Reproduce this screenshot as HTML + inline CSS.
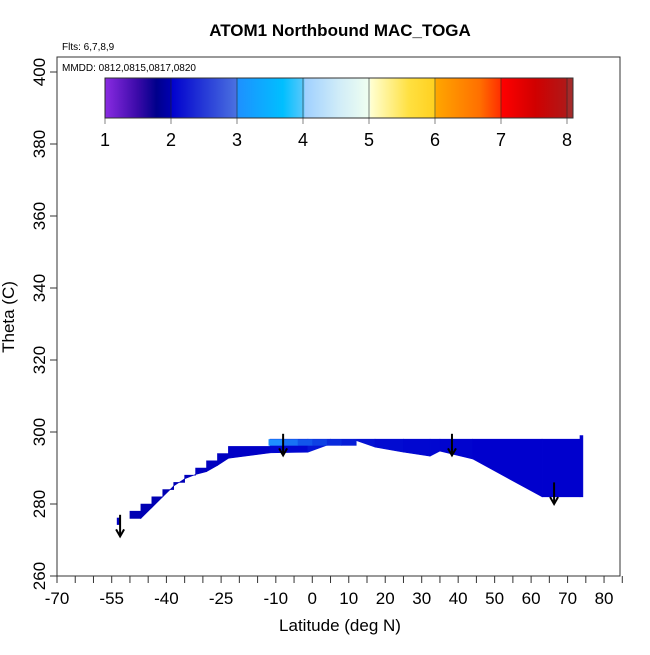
<!DOCTYPE html>
<html><head><meta charset="utf-8"><style>
body{margin:0;background:#fff;}
svg text{font-family:"Liberation Sans",sans-serif;}
</style></head><body>
<svg id="chart" width="650" height="650" xmlns="http://www.w3.org/2000/svg">
<defs>
<linearGradient id="cbar" x1="105" x2="573" y1="0" y2="0" gradientUnits="userSpaceOnUse">
<stop offset="0" stop-color="#8a2be2"/><stop offset="0.07" stop-color="#3a0aa8"/><stop offset="0.11" stop-color="#00008b"/>
<stop offset="0.141" stop-color="#0000b0"/><stop offset="0.142" stop-color="#0000cd"/><stop offset="0.28" stop-color="#4a70e0"/>
<stop offset="0.283" stop-color="#1e90ff"/><stop offset="0.38" stop-color="#00bfff"/><stop offset="0.425" stop-color="#5ac8fa"/>
<stop offset="0.427" stop-color="#9fd0ff"/><stop offset="0.5" stop-color="#d0ecf8"/><stop offset="0.565" stop-color="#f0fff0"/>
<stop offset="0.568" stop-color="#ffffd0"/><stop offset="0.65" stop-color="#ffe040"/><stop offset="0.705" stop-color="#ffd020"/>
<stop offset="0.708" stop-color="#ffa500"/><stop offset="0.8" stop-color="#ff7000"/><stop offset="0.845" stop-color="#ff3000"/>
<stop offset="0.848" stop-color="#ff0000"/><stop offset="0.92" stop-color="#d00000"/><stop offset="0.985" stop-color="#b01818"/>
<stop offset="0.988" stop-color="#a52a2a"/><stop offset="1" stop-color="#a52a2a"/>
</linearGradient>
</defs>
<text x="340" y="36" font-size="17" font-weight="bold" text-anchor="middle">ATOM1 Northbound MAC_TOGA</text>
<text x="62" y="50" font-size="10">Flts: 6,7,8,9</text>
<g id="data"></g>
<g id="axes"></g>
<rect x="57" y="57" width="563" height="519" fill="none" stroke="#333" stroke-width="1"/>
<text x="62" y="71" font-size="10">MMDD: 0812,0815,0817,0820</text>
<rect x="105" y="78" width="468" height="40" fill="url(#cbar)" stroke="#333"/>
<g id="cb"></g>
<text transform="translate(14,317) rotate(-90)" font-size="17" text-anchor="middle">Theta (C)</text>
<text x="340" y="631" font-size="17" text-anchor="middle">Latitude (deg N)</text>
</svg>
<script>
const xTicks=[-70,-65,-60,-55,-50,-45,-40,-35,-30,-25,-20,-15,-10,-5,0,5,10,15,20,25,30,35,40,45,50,55,60,65,70,75,80,85];
const xLabels=[-70,-55,-40,-25,-10,0,10,20,30,40,50,60,70,80];
const yTicks=[260,280,300,320,340,360,380,400];
const cbTicks=[1,2,3,4,5,6,7,8];
const knotLat=[-50.0,-47.0,-47.0,-44.0,-44.0,-41.0,-41.0,-38.0,-38.0,-35.0,-35.0,-32.0,-32.0,-29.0,-29.0,-26.0,-26.0,-23.0,-23.0,-11.6,-11.6,-1.2,5,11,17.2,25,32.3,35,44,63,73.4,73.4,74.2];
const knotTop=[278,278,280,280,282,282,284,284,286,286,288,288,290,290,292,292,294,294,296,296,298,298,298,298,298,298,298,298,298,298,298,299,299];
const knotBot=[276,276,276,279,279,282,282,285,285,287,287,288.2,288.2,289,289,290.7,290.7,292.7,292.7,294.2,294.2,294.4,296.7,298,295.8,294.4,293.3,294.7,292.5,282,282,282,282];
const knotVal=[1.8,1.8,1.8,1.8,1.8,1.8,1.8,1.8,1.8,1.85,1.85,1.9,1.9,1.9,1.9,1.9,1.9,1.9,1.9,2.0,2.0,2.1,2.2,2.15,2.1,2.05,2.05,2.05,2.0,2.0,2.0,2.0,2.0];
const bitLat=[-53.6,-52.8], bitTheta=[274.2,276.2], bitVal=1.9;
const bandLat=[-12,-8,-4,0,4,8,12];
const bandVal=[3.0,2.8,2.6,2.45,2.3,2.2,2.1];
const bandTop=298, bandBot=296.2;
const arrowLat=[-52.7,-8,38.3,66.3];
const arrowTheta=[277,299.5,299.5,286];
const NS="http://www.w3.org/2000/svg";
const X=v=>57+(v+70)*3.647;
const Y=t=>576-(t-260)*3.6;
const CB=v=>105+(v-1)*66;
function color(v){
 const st=[[1,[138,43,226]],[1.5,[0,0,139]],[2,[0,0,205]],[3,[30,144,255]],[4,[160,208,255]],[5,[255,255,208]],[6,[255,165,0]],[7,[255,0,0]],[8,[165,42,42]]];
 for(let i=0;i<st.length-1;i++){const a=st[i],b=st[i+1];if(v<=b[0]){const f=Math.max(0,(v-a[0])/(b[0]-a[0]));return 'rgb('+a[1].map((c,j)=>Math.round(c+(b[1][j]-c)*f)).join(',')+')';}}
 return 'rgb(165,42,42)';
}
function mk(tag,attrs,parent){const e=document.createElementNS(NS,tag);for(const k in attrs)e.setAttribute(k,attrs[k]);parent.appendChild(e);return e;}
const data=document.getElementById('data'),axes=document.getElementById('axes'),cb=document.getElementById('cb');
for(let i=0;i<knotLat.length-1;i++){
 if(knotLat[i+1]<=knotLat[i])continue;
 const c=color((knotVal[i]+knotVal[i+1])/2);
 const p=[[X(knotLat[i]),Y(knotTop[i])],[X(knotLat[i+1]),Y(knotTop[i+1])],[X(knotLat[i+1]),Y(knotBot[i+1])],[X(knotLat[i]),Y(knotBot[i])]];
 const e=mk('polygon',{points:p.map(q=>q.join(',')).join(' '),fill:c,stroke:c,'stroke-width':0.6},data);
 
 
}
{const e=mk('rect',{x:X(bitLat[0]),y:Y(bitTheta[1]),width:X(bitLat[1])-X(bitLat[0]),height:Y(bitTheta[0])-Y(bitTheta[1]),fill:color(bitVal)},data);
 
 }
for(let i=0;i<bandLat.length-1;i++){
 const e=mk('rect',{x:X(bandLat[i]),y:Y(bandTop),width:X(bandLat[i+1])-X(bandLat[i])+0.5,height:Y(bandBot)-Y(bandTop),fill:color(bandVal[i])},data);
 
 
}
for(let i=0;i<arrowLat.length;i++){
 const x=X(arrowLat[i]),y=Y(arrowTheta[i]),y2=Y(arrowTheta[i]-6);
 const g=mk('g',{stroke:'#000','stroke-width':2,fill:'none'},data);
 
 
 mk('line',{x1:x,y1:y,x2:x,y2:y2},g);
 mk('polyline',{points:`${x-4},${y2-7} ${x},${y2} ${x+4},${y2-7}`},g);
}
xTicks.forEach(v=>{const e=mk('line',{x1:X(v),x2:X(v),y1:576,y2:583,stroke:'#333'},axes);
 
 });
xLabels.forEach(v=>{const e=mk('text',{x:X(v),y:604,'font-size':17,'text-anchor':'middle'},axes);e.textContent=v;
 
 });
yTicks.forEach(v=>{const e=mk('line',{x1:50,x2:57,y1:Y(v),y2:Y(v),stroke:'#333'},axes);
 
 
 const t=mk('text',{transform:`translate(45,${Y(v)}) rotate(-90)`,'font-size':17,'text-anchor':'middle'},axes);t.textContent=v;
 
 });
cbTicks.forEach(v=>{const l=mk('line',{x1:CB(v),x2:CB(v),y1:78,y2:124,stroke:'#222','stroke-width':0.8,'stroke-opacity':0.7},cb);
 
 
 const t=mk('text',{x:CB(v),y:146,'font-size':18,'text-anchor':'middle'},cb);t.textContent=v;
 
 });
</script>
</body></html>
